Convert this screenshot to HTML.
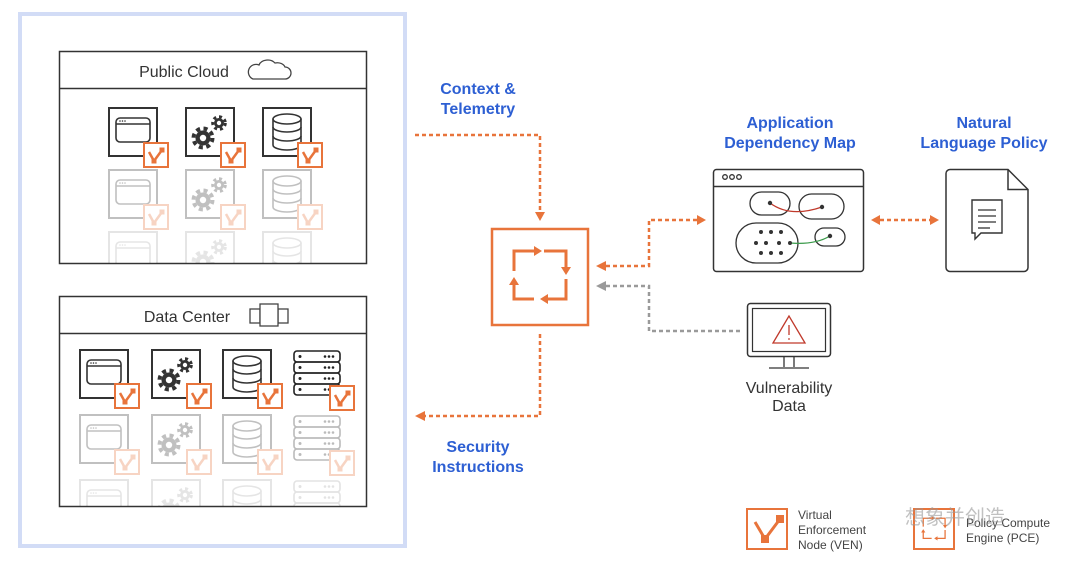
<!DOCTYPE html>
<html><head><meta charset="utf-8"><style>
html,body{margin:0;padding:0;background:#fff;}
svg{display:block;}
text{font-family:"Liberation Sans",sans-serif;}
</style></head><body>
<svg width="1080" height="563" viewBox="0 0 1080 563" xmlns="http://www.w3.org/2000/svg">
<defs>
  <g id="ven">
    <rect x="0" y="0" width="24" height="24" fill="#fff" stroke="#e8743b" stroke-width="2"/>
    <polyline points="5,9 10,18 18,7" fill="none" stroke="#e8743b" stroke-width="2.5"/>
    <rect x="7.5" y="15.5" width="5" height="5" fill="#e8743b"/>
    <rect x="15.5" y="4.5" width="5" height="5" fill="#e8743b"/>
  </g>
  <g id="win">
    <rect x="0" y="0" width="48" height="48" fill="#fff" stroke="#333" stroke-width="2"/>
    <rect x="7" y="10" width="34" height="24" rx="4" fill="none" stroke="#333" stroke-width="1.6"/>
    <line x1="7" y1="16" x2="41" y2="16" stroke="#333" stroke-width="1.4"/>
    <circle cx="11" cy="13" r="0.8" fill="#333"/><circle cx="13.5" cy="13" r="0.8" fill="#333"/><circle cx="16" cy="13" r="0.8" fill="#333"/>
  </g>
  <g id="gear">
    <rect x="0" y="0" width="48" height="48" fill="#fff" stroke="#333" stroke-width="2"/>
    <circle cx="17" cy="30" r="7.5" fill="#333"/>
    <circle cx="17" cy="30" r="9.5" fill="none" stroke="#333" stroke-width="4" stroke-dasharray="4 3.5"/>
    <circle cx="17" cy="30" r="3.2" fill="#fff"/>
    <circle cx="33" cy="15" r="5" fill="#333"/>
    <circle cx="33" cy="15" r="6.3" fill="none" stroke="#333" stroke-width="3" stroke-dasharray="3 2.9"/>
    <circle cx="33" cy="15" r="2.2" fill="#fff"/>
  </g>
  <g id="db">
    <rect x="0" y="0" width="48" height="48" fill="#fff" stroke="#333" stroke-width="2"/>
    <path d="M10 11 v26 a14 5 0 0 0 28 0 v-26" fill="none" stroke="#333" stroke-width="1.6"/>
    <ellipse cx="24" cy="11" rx="14" ry="5" fill="none" stroke="#333" stroke-width="1.6"/>
    <path d="M10 19 a14 5 0 0 0 28 0 M10 28 a14 5 0 0 0 28 0" fill="none" stroke="#333" stroke-width="1.6"/>
  </g>
  <g id="srv">
    <rect x="0" y="0" width="48" height="48" fill="#fff"/>
    <g fill="none" stroke="#222" stroke-width="1.6">
      <rect x="1" y="1" width="46" height="11" rx="3"/><rect x="1" y="12" width="46" height="11" rx="3"/>
      <rect x="1" y="23" width="46" height="11" rx="3"/><rect x="1" y="34" width="46" height="11" rx="3"/>
    </g>
    <g fill="#222">
      <circle cx="7" cy="6.5" r="1.5"/><circle cx="7" cy="17.5" r="1.5"/><circle cx="7" cy="28.5" r="1.5"/><circle cx="7" cy="39.5" r="1.5"/>
      <circle cx="32" cy="6.5" r="1.3"/><circle cx="36" cy="6.5" r="1.3"/><circle cx="40" cy="6.5" r="1.3"/>
      <circle cx="32" cy="17.5" r="1.3"/><circle cx="36" cy="17.5" r="1.3"/><circle cx="40" cy="17.5" r="1.3"/>
      <circle cx="32" cy="28.5" r="1.3"/><circle cx="36" cy="28.5" r="1.3"/><circle cx="40" cy="28.5" r="1.3"/>
      <circle cx="32" cy="39.5" r="1.3"/><circle cx="36" cy="39.5" r="1.3"/>
    </g>
  </g>
  <g id="pceicon">
    <g fill="none" stroke="#e8743b" stroke-width="3">
      <polyline points="22,42 22,22 42,22"/>
      <polyline points="52,22 74,22 74,38"/>
      <polyline points="74,50 74,70 56,70"/>
      <polyline points="42,70 22,70 22,56"/>
    </g>
    <g fill="#e8743b">
      <polygon points="42,17 50,22 42,27"/>
      <polygon points="69,38 79,38 74,46"/>
      <polygon points="56,65 56,75 48,70"/>
      <polygon points="17,56 27,56 22,48"/>
    </g>
  </g>
  <clipPath id="c1"><rect x="60" y="89" width="306" height="174"/></clipPath>
  <clipPath id="c2"><rect x="60" y="334" width="306" height="172"/></clipPath>
</defs>

<rect x="20" y="14" width="385" height="532" fill="none" stroke="#d2dcf6" stroke-width="4"/>

<rect x="59.5" y="51.5" width="307" height="212" fill="#fff" stroke="#333" stroke-width="1.5"/>
<line x1="59.5" y1="88.5" x2="366.5" y2="88.5" stroke="#333" stroke-width="1.5"/>
<text x="184" y="77" font-size="16" text-anchor="middle" fill="#333">Public Cloud</text>
<path d="M253 79 h32 a6 6 0 0 0 0 -12 a8 6 0 0 0 -10 -4 a9 7 0 0 0 -16 2 a7 7 0 0 0 -6 14z" fill="none" stroke="#444" stroke-width="1.3"/>
<g clip-path="url(#c1)">
  <g><use href="#win" x="109" y="108"/><use href="#ven" x="144" y="143"/>
     <use href="#gear" x="186" y="108"/><use href="#ven" x="221" y="143"/>
     <use href="#db" x="263" y="108"/><use href="#ven" x="298" y="143"/></g>
  <g opacity="0.3"><use href="#win" x="109" y="170"/><use href="#ven" x="144" y="205"/>
     <use href="#gear" x="186" y="170"/><use href="#ven" x="221" y="205"/>
     <use href="#db" x="263" y="170"/><use href="#ven" x="298" y="205"/></g>
  <g opacity="0.12"><use href="#win" x="109" y="232"/><use href="#gear" x="186" y="232"/><use href="#db" x="263" y="232"/></g>
</g>

<rect x="59.5" y="296.5" width="307" height="210" fill="#fff" stroke="#333" stroke-width="1.5"/>
<line x1="59.5" y1="333.5" x2="366.5" y2="333.5" stroke="#333" stroke-width="1.5"/>
<text x="187" y="322" font-size="16" text-anchor="middle" fill="#333">Data Center</text>
<g fill="#fff" stroke="#444" stroke-width="1.3"><rect x="250" y="309" width="10" height="14"/><rect x="278" y="309" width="10" height="14"/><rect x="260" y="304" width="18" height="22"/></g>
<g clip-path="url(#c2)">
  <g><use href="#win" x="80" y="350"/><use href="#ven" x="115" y="384"/>
     <use href="#gear" x="152" y="350"/><use href="#ven" x="187" y="384"/>
     <use href="#db" x="223" y="350"/><use href="#ven" x="258" y="384"/>
     <use href="#srv" x="293" y="350"/><use href="#ven" x="330" y="386"/></g>
  <g opacity="0.3"><use href="#win" x="80" y="415"/><use href="#ven" x="115" y="450"/>
     <use href="#gear" x="152" y="415"/><use href="#ven" x="187" y="450"/>
     <use href="#db" x="223" y="415"/><use href="#ven" x="258" y="450"/>
     <use href="#srv" x="293" y="415"/><use href="#ven" x="330" y="451"/></g>
  <g opacity="0.12"><use href="#win" x="80" y="480"/><use href="#gear" x="152" y="480"/><use href="#db" x="223" y="480"/><use href="#srv" x="293" y="480"/></g>
</g>

<g font-size="16" font-weight="bold" fill="#2d5fd3" text-anchor="middle">
  <text x="478" y="94">Context &amp;</text><text x="478" y="114">Telemetry</text>
  <text x="478" y="452">Security</text><text x="478" y="472">Instructions</text>
  <text x="790" y="128">Application</text><text x="790" y="148">Dependency Map</text>
  <text x="984" y="128">Natural</text><text x="984" y="148">Language Policy</text>
</g>

<g fill="none" stroke="#e8743b" stroke-width="2.5" stroke-dasharray="4 3">
  <polyline points="415,135 540,135 540,212"/>
  <polyline points="540,334 540,416 425,416"/>
  <polyline points="606,266 649,266 649,220 697,220"/>
  <line x1="880" y1="220" x2="930" y2="220"/>
</g>
<g fill="#e8743b">
  <polygon points="535,212 545,212 540,221"/>
  <polygon points="425,411 425,421 415,416"/>
  <polygon points="606,261 606,271 596,266"/>
  <polygon points="697,215 697,225 706,220"/>
  <polygon points="880,215 880,225 871,220"/>
  <polygon points="930,215 930,225 939,220"/>
</g>
<polyline points="606,286 649,286 649,331 740,331" fill="none" stroke="#9a9a9a" stroke-width="2.5" stroke-dasharray="4 3"/>
<polygon points="606,281 606,291 596,286" fill="#9a9a9a"/>

<rect x="492" y="229" width="96" height="96" fill="#fff" stroke="#e8743b" stroke-width="2.5"/>
<use href="#pceicon" x="492" y="229"/>

<rect x="713.5" y="169.5" width="150" height="102" rx="3" fill="#fff" stroke="#333" stroke-width="1.5"/>
<line x1="713.5" y1="186.5" x2="863.5" y2="186.5" stroke="#333" stroke-width="1.5"/>
<g fill="none" stroke="#333" stroke-width="1.3">
  <circle cx="725" cy="177" r="2.3"/><circle cx="732" cy="177" r="2.3"/><circle cx="739" cy="177" r="2.3"/>
  <rect x="750" y="192" width="40" height="23" rx="11.5"/>
  <rect x="799" y="194" width="45" height="25" rx="12.5"/>
  <rect x="736" y="223" width="62" height="40" rx="20"/>
  <rect x="815" y="228" width="30" height="18" rx="9"/>
</g>
<path d="M770 203 Q790 218 822 207" fill="none" stroke="#c0392b" stroke-width="1.3"/>
<path d="M790 243 Q815 245 830 236" fill="none" stroke="#3a9a4a" stroke-width="1.3"/>
<g fill="#333">
  <circle cx="770" cy="203" r="2.2"/><circle cx="822" cy="207" r="2.2"/><circle cx="830" cy="236" r="2.2"/>
  <circle cx="761" cy="232" r="2"/><circle cx="771" cy="232" r="2"/><circle cx="781" cy="232" r="2"/>
  <circle cx="756" cy="243" r="2"/><circle cx="766" cy="243" r="2"/><circle cx="779" cy="243" r="2"/><circle cx="790" cy="243" r="2"/>
  <circle cx="761" cy="253" r="2"/><circle cx="771" cy="253" r="2"/><circle cx="781" cy="253" r="2"/>
</g>

<path d="M950 169.5 h58 l20 20 v78 a4 4 0 0 1 -4 4 h-74 a4 4 0 0 1 -4 -4 v-94 a4 4 0 0 1 4 -4z" fill="#fff" stroke="#333" stroke-width="1.5"/>
<path d="M1008 169.5 v20 h20" fill="none" stroke="#333" stroke-width="1.5"/>
<path d="M972 200 h30 v33 h-21 l-6 6 v-6 h-3z" fill="none" stroke="#333" stroke-width="1.4"/>
<g stroke="#333" stroke-width="1.3"><line x1="978" y1="210" x2="996" y2="210"/><line x1="978" y1="216" x2="996" y2="216"/><line x1="978" y1="222" x2="996" y2="222"/><line x1="978" y1="228" x2="990" y2="228"/></g>

<rect x="747.5" y="303.5" width="83" height="53" rx="3" fill="#fff" stroke="#333" stroke-width="1.5"/>
<rect x="752.5" y="308.5" width="73" height="43" fill="none" stroke="#333" stroke-width="1.2"/>
<polygon points="789,316 773,343 805,343" fill="none" stroke="#c0392b" stroke-width="1.3"/>
<line x1="789" y1="325" x2="789" y2="335" stroke="#c0392b" stroke-width="1.3"/>
<circle cx="789" cy="339" r="0.9" fill="#c0392b"/>
<g stroke="#333" stroke-width="1.3"><line x1="784" y1="357" x2="784" y2="367"/><line x1="794" y1="357" x2="794" y2="367"/><line x1="769" y1="368" x2="809" y2="368"/></g>
<text x="789" y="393" font-size="16" text-anchor="middle" fill="#333">Vulnerability</text>
<text x="789" y="411" font-size="16" text-anchor="middle" fill="#333">Data</text>

<rect x="747" y="509" width="40" height="40" fill="#fff" stroke="#e8743b" stroke-width="2"/>
<polyline points="755,522 765,539 780,519" fill="none" stroke="#e8743b" stroke-width="3"/>
<rect x="761" y="535" width="8" height="8" fill="#e8743b"/><rect x="776" y="515" width="8" height="8" fill="#e8743b"/>
<g font-size="12" fill="#444"><text x="798" y="519">Virtual</text><text x="798" y="534">Enforcement</text><text x="798" y="549">Node (VEN)</text></g>
<rect x="914" y="509" width="40" height="40" fill="#fff" stroke="#e8743b" stroke-width="2"/>
<g transform="translate(914,509) scale(0.42)"><use href="#pceicon"/></g>
<g font-size="12" fill="#444"><text x="966" y="527">Policy Compute</text><text x="966" y="542">Engine (PCE)</text></g>
<text x="955" y="524" font-size="20" fill="#999" opacity="0.6" text-anchor="middle" font-family="'Liberation Sans','Noto Sans CJK SC',sans-serif">想象并创造</text>
</svg>
</body></html>
